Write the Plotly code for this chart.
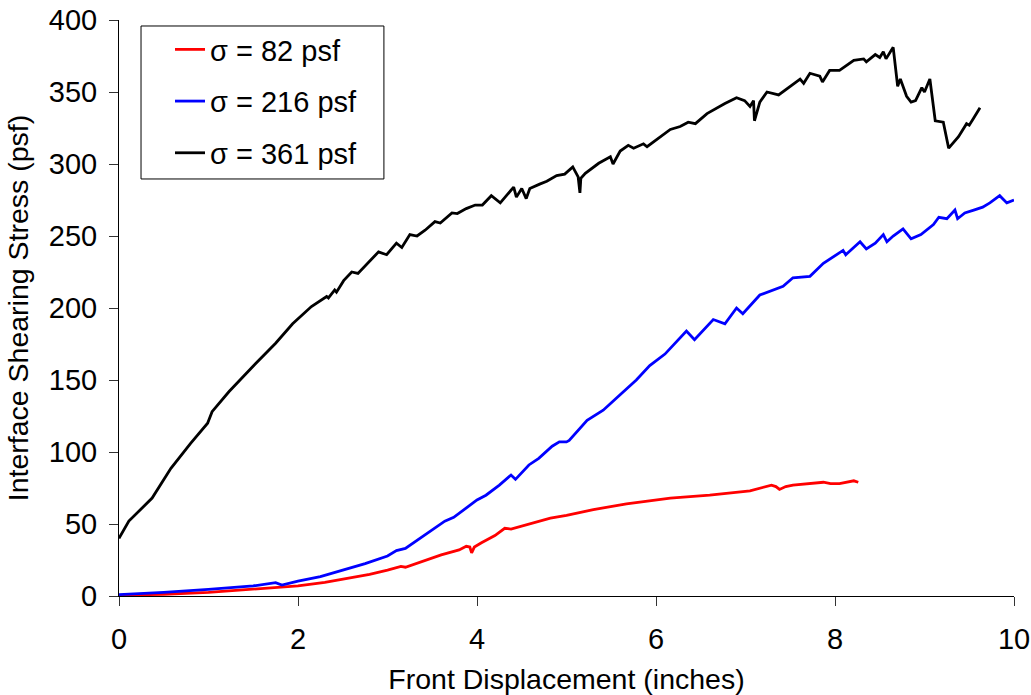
import plotly.graph_objects as go

# sigma = 82 psf
x_82 = [0, 0.5, 1.0, 1.5, 2.0, 2.3, 2.6, 2.8, 3.0, 3.15, 3.2, 3.4, 3.6, 3.8, 3.88, 3.92, 3.94, 3.97,
        4.05, 4.2, 4.31, 4.38, 4.5, 4.65, 4.82, 5.0, 5.3, 5.67, 6.0, 6.16, 6.6, 7.05, 7.29, 7.34, 7.38,
        7.45, 7.53, 7.87, 7.95, 8.05, 8.21, 8.26]
y_82 = [0.5, 1.2, 2.5, 4.5, 7, 9.5, 12.5, 15, 18, 20.5, 20, 24.5, 28.5, 32, 34.5, 34, 30, 34,
        37, 42, 47, 46.5, 48.5, 51, 54, 56, 60, 64, 66.5, 68, 70, 73, 77, 76, 74,
        76, 77, 79, 78, 78, 80, 79]

# sigma = 216 psf
x_216 = [0, 0.5, 1.0, 1.5, 1.75, 1.82, 2.0, 2.25, 2.5, 2.75, 3.0, 3.1, 3.2, 3.4, 3.64, 3.74, 3.88, 4.0,
         4.1, 4.25, 4.38, 4.43, 4.58, 4.69, 4.84, 4.92, 5.0, 5.03, 5.23, 5.41, 5.55, 5.78, 5.93, 6.1,
         6.34, 6.43, 6.64, 6.77, 6.9, 6.97, 7.16, 7.3, 7.42, 7.53, 7.72, 7.87, 8.0, 8.09, 8.12, 8.28,
         8.35, 8.45, 8.54, 8.58, 8.65, 8.76, 8.85, 8.96, 9.1, 9.16, 9.25, 9.34, 9.37, 9.45, 9.55, 9.65,
         9.73, 9.84, 9.92, 10.0]
y_216 = [1, 2.5, 4.6, 7, 9.3, 7.6, 10.4, 13.5, 18, 22.5, 27.8, 31.5, 33, 41.7, 52, 54.6, 61, 66.7,
         70, 77, 84, 81, 91, 95.6, 104, 107, 107, 108, 122, 129, 137, 150, 160, 168,
         184, 178, 192, 189, 200, 196, 209, 212, 215, 221, 222, 231, 236, 240, 237, 246,
         241, 245, 251, 246, 250, 255, 248, 251, 258, 263, 262, 268, 262, 266, 268, 270,
         273, 278, 273, 275]

# sigma = 361 psf
x_361 = [0, 0.11, 0.37, 0.58, 0.80, 0.99, 1.04, 1.23, 1.53, 1.75, 1.94, 2.15, 2.32, 2.34, 2.41, 2.43,
         2.51, 2.60, 2.67, 2.90, 2.99, 3.10, 3.16, 3.25, 3.33, 3.42, 3.53, 3.59, 3.72, 3.78, 3.88, 3.98,
         4.06, 4.16, 4.26, 4.41, 4.44, 4.50, 4.55, 4.59, 4.70, 4.78, 4.89, 4.98, 5.07, 5.13, 5.15, 5.16,
         5.21, 5.36, 5.49, 5.52, 5.6, 5.69, 5.75, 5.86, 5.9, 6.03, 6.16, 6.27, 6.36, 6.44,
         6.57, 6.77, 6.9, 6.99, 7.05, 7.09, 7.1, 7.16, 7.24, 7.37, 7.53, 7.61, 7.65, 7.72, 7.83, 7.86,
         7.94, 8.05, 8.21, 8.32, 8.35, 8.45, 8.5, 8.54, 8.57, 8.65, 8.70, 8.73, 8.80, 8.85, 8.9, 8.97,
         9.0, 9.06, 9.12, 9.21, 9.27, 9.38, 9.47, 9.5, 9.55, 9.62]
y_361 = [40, 52, 68, 88.7, 106, 120, 128, 142, 161.6, 175.5, 189, 201, 208, 207, 212.5, 211,
         219, 225, 224, 239, 237, 245, 242, 251, 250, 254, 260, 259, 266, 265.6, 269, 271.5,
         271.5, 278, 273, 284, 277, 283, 276, 283, 286, 288, 292, 293, 298, 291, 280, 290,
         293.5, 300.5, 305, 300, 309, 313, 311, 314, 312, 318, 324, 326, 329, 328,
         335, 342, 346, 344, 340, 344, 330, 343, 350, 348, 355, 359, 356, 363, 361, 357,
         365, 365, 372, 373, 371, 376, 374, 378, 373, 381, 354, 359, 347, 343, 344, 353,
         350, 359, 330, 329, 311, 319, 328, 327, 332, 339]

series = [
    ("σ = 82 psf", x_82, y_82, "#FF0000"),
    ("σ = 216 psf", x_216, y_216, "#0000FF"),
    ("σ = 361 psf", x_361, y_361, "#000000"),
]

x_ticks = [0, 2, 4, 6, 8, 10]
y_ticks = [0, 50, 100, 150, 200, 250, 300, 350, 400]

FONT = "Liberation Sans, Arial, sans-serif"

fig = go.Figure()
for i, (name, xs, ys, col) in enumerate(series):
    fig.add_trace(go.Scatter(x=xs, y=ys, mode="lines", name=name,
                             line=dict(color=col, width=2.8), legendgroup=f"g{i}"))

# legend frame
fig.add_shape(type="rect", xref="paper", yref="paper",
              x0=0.0246, x1=0.296, y0=0.724, y1=0.9896,
              line=dict(color="black", width=1), fillcolor="white", layer="below")

fig.update_layout(
    width=1031, height=695,
    margin=dict(l=119, r=17, t=20, b=99, autoexpand=False),
    paper_bgcolor="white", plot_bgcolor="white",
    font=dict(family=FONT, size=28.5, color="black"),
    showlegend=True,
    legend=dict(x=0.057, y=0.993, xanchor="left", yanchor="top",
                bgcolor="rgba(0,0,0,0)", borderwidth=0,
                font=dict(size=29), tracegroupgap=11, traceorder="grouped"),
    xaxis=dict(range=[0, 10], tickvals=x_ticks, ticks="outside", ticklen=9, tickwidth=1,
               tickcolor="#333", showline=True, linecolor="black", linewidth=1,
               showgrid=False, zeroline=False, automargin=False, ticklabelstandoff=8,
               ticklabeloverflow="allow", tickfont=dict(size=29),
               title=dict(text="Front Displacement (inches)", standoff=20,
                          font=dict(size=28.5))),
    yaxis=dict(range=[0, 400], tickvals=y_ticks, ticks="outside", ticklen=9, tickwidth=1,
               tickcolor="#333", showline=True, linecolor="black", linewidth=1,
               showgrid=False, zeroline=False, automargin=False, ticklabelstandoff=6,
               ticklabeloverflow="allow", tickfont=dict(size=29),
               title=dict(text="Interface Shearing Stress (psf)", standoff=11,
                          font=dict(size=28.5))),
)

fig.write_html(
    "out.html",
    config={"displayModeBar": False},
    post_script="document.body.style.margin='0';"
                "document.body.style.padding='0';"
                "document.documentElement.style.overflow='hidden';"
                "document.body.style.overflow='hidden';",
)
